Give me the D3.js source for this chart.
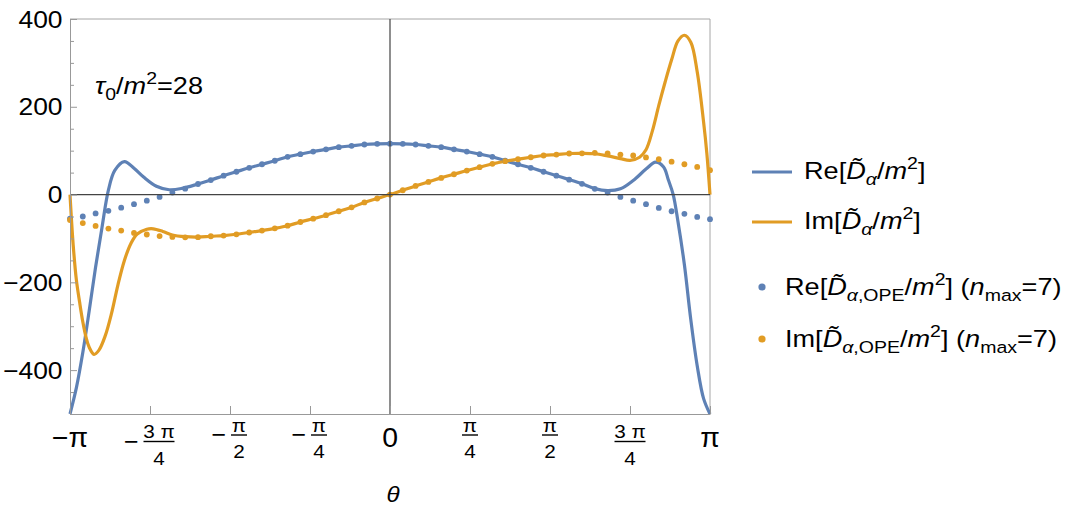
<!DOCTYPE html>
<html>
<head>
<meta charset="utf-8">
<script src="https://cdn.jsdelivr.net/npm/d3@7"></script>
<style>
  body { margin: 0; background: #fff; }
  text { font-family: "Liberation Sans", Arial, sans-serif; fill: #000; }
</style>
</head>
<body>
<div id="chart"></div>
<script>
// theta is stored in units of pi
const yMajorTicks = [-400, -200, 0, 200, 400];
const yMinorTicks = [-500, -450, -350, -300, -250, -150, -100, -50, 50, 100, 150, 250, 300, 350];
const xTicks = [-1, -0.75, -0.5, -0.25, 0, 0.25, 0.5, 0.75, 1];
const xTickLabels = ["−π", "−3 π/4", "−π/2", "−π/4", "0", "π/4", "π/2", "3 π/4", "π"];

// OPE points, theta = k/25 for k = -25..25
const opeTheta = d3.range(-25, 26).map(k => k / 25);
const reOpe = [-55, -50, -43, -37, -30, -22, -14, -5.5, 4.5, 13.5, 24, 33, 43, 52, 61, 69, 77, 86, 92, 98, 103, 108, 111, 114, 115.5,
  116,
  115.5, 114, 111, 108, 103, 98, 92, 86, 77, 69, 61, 52, 43, 34, 24.5, 13, 4.5, -5.5, -14, -22, -30.5, -38, -44, -51, -56];
const imOpe = [-58, -65, -71.5, -77.5, -82, -87.5, -91, -94.5, -96.5, -97.5, -97, -95, -93.5, -90.5, -86.5, -82, -77, -71, -62.5, -55, -47, -38, -29, -18, -9,
  0,
  9.8, 19.6, 28.8, 38, 46.3, 54.7, 62.3, 70, 76, 80.5, 85, 89, 91, 93.5, 94, 95, 93.5, 91, 89, 84.5, 80.5, 75, 69, 63, 55.5];

// full solution [theta, value]
const reExact = [[-1, -500], [-0.98, -440], [-0.96, -360], [-0.94, -265], [-0.92, -165], [-0.9, -75], [-0.88, 10], [-0.86, 55],
  [-0.83, 75], [-0.8, 60], [-0.77, 40], [-0.73, 19], [-0.69, 11], [-0.65, 14],
  [-0.6, 24], [-0.56, 33], [-0.52, 43], [-0.48, 52], [-0.44, 61], [-0.4, 69], [-0.36, 77], [-0.32, 86], [-0.28, 92], [-0.24, 98],
  [-0.2, 103], [-0.16, 108], [-0.12, 111], [-0.08, 114], [-0.04, 115.5], [0, 116], [0.04, 115.5], [0.08, 114], [0.12, 111],
  [0.16, 108], [0.2, 103], [0.24, 98], [0.28, 92], [0.32, 86], [0.36, 77], [0.4, 69], [0.44, 61], [0.48, 52], [0.52, 43],
  [0.56, 34], [0.6, 24.5],
  [0.64, 13.5], [0.68, 9], [0.72, 13], [0.76, 32], [0.8, 58], [0.83, 74], [0.855, 63], [0.87, 33], [0.885, 0], [0.9, -62],
  [0.92, -160], [0.94, -285], [0.96, -390], [0.98, -465], [1, -500]];
const imExact = [[-1, 0], [-0.99, -115], [-0.98, -195], [-0.97, -245], [-0.96, -290], [-0.95, -325], [-0.94, -348], [-0.925, -364],
  [-0.91, -355], [-0.89, -322], [-0.87, -270], [-0.85, -205], [-0.83, -150], [-0.81, -112], [-0.79, -90], [-0.76, -79],
  [-0.74, -78], [-0.71, -84], [-0.68, -92], [-0.64, -96],
  [-0.6, -97], [-0.56, -95], [-0.52, -93.5], [-0.48, -90.5], [-0.44, -86.5], [-0.4, -82], [-0.36, -77], [-0.32, -71], [-0.28, -62.5],
  [-0.24, -55], [-0.2, -47], [-0.16, -38], [-0.12, -29], [-0.08, -18], [-0.04, -9], [0, 0], [0.04, 9.8], [0.08, 19.6], [0.12, 28.8],
  [0.16, 38], [0.2, 46.3], [0.24, 54.7], [0.28, 62.3], [0.32, 70], [0.36, 76], [0.4, 80.5], [0.44, 85], [0.48, 89], [0.52, 91],
  [0.56, 93.5], [0.6, 94],
  [0.64, 93], [0.68, 88], [0.72, 82], [0.75, 78], [0.78, 85], [0.8, 102], [0.82, 145], [0.84, 203], [0.86, 257], [0.88, 307],
  [0.9, 350], [0.92, 363], [0.94, 347], [0.96, 280], [0.98, 165], [0.99, 95], [1, 0]];

// [text, italic, position]
const annotation = [["τ", true, ""], ["0", false, "sub"], ["/", false, ""], ["m", true, ""], ["2", false, "sup"], ["=28", false, ""]];
const legendItems = [
  { kind: "line", color: "#5E81B5", parts: [["Re[", false, ""], ["D̃", true, ""], ["α", true, "sub"], ["/", false, ""], ["m", true, ""], ["2", false, "sup"], ["]", false, ""]] },
  { kind: "line", color: "#E19C24", parts: [["Im[", false, ""], ["D̃", true, ""], ["α", true, "sub"], ["/", false, ""], ["m", true, ""], ["2", false, "sup"], ["]", false, ""]] },
  { kind: "dot", color: "#5E81B5", parts: [["Re[", false, ""], ["D̃", true, ""], ["α", true, "sub"], [",OPE", false, "sub"], ["/", false, ""], ["m", true, ""], ["2", false, "sup"], ["] (", false, ""], ["n", true, ""], ["max", false, "sub"], ["=7)", false, ""]] },
  { kind: "dot", color: "#E19C24", parts: [["Im[", false, ""], ["D̃", true, ""], ["α", true, "sub"], [",OPE", false, "sub"], ["/", false, ""], ["m", true, ""], ["2", false, "sup"], ["] (", false, ""], ["n", true, ""], ["max", false, "sub"], ["=7)", false, ""]] }
];

const W = 1070, H = 511;
const blue = "#5E81B5", orange = "#E19C24";

const svg = d3.select("#chart").append("svg")
  .attr("width", W).attr("height", H);
svg.append("rect").attr("width", W).attr("height", H).attr("fill", "#fff");

const x = d3.scaleLinear().domain([-1, 1]).range([70, 710]);
const y = d3.scaleLinear().domain([-500, 400]).range([414, 19]);

// text in a horizontally stretched group (the original font runs wider than Arial)
function label(g, px, py, size, sx, parts, anchor) {
  const t = g.append("g").attr("transform", `translate(${px},${py}) scale(${sx},1)`)
    .append("text").attr("font-size", size).attr("text-anchor", anchor || "start");
  let cur = 0;
  parts.forEach(([txt, it, pos]) => {
    let off = 0, fs = size;
    if (pos === "sub") { off = size * 0.27; fs = size * 0.72; }
    if (pos === "sup") { off = -size * 0.4; fs = size * 0.72; }
    t.append("tspan")
      .attr("dy", off - cur)
      .attr("font-size", fs)
      .attr("font-style", it ? "italic" : "normal")
      .text(txt);
    cur = off;
  });
  return t;
}

// frame top / right
svg.append("path")
  .attr("d", `M${x(-1)},${y(400)}H${x(1)}V${y(-500)}`)
  .attr("fill", "none").attr("stroke", "#a6a6a6").attr("stroke-width", 1);

// data
const line = d3.line().x(d => x(d[0])).y(d => y(d[1])).curve(d3.curveCatmullRom.alpha(0.5));
const plot = svg.append("g");
plot.append("path").datum(reExact).attr("d", line)
  .attr("fill", "none").attr("stroke", blue).attr("stroke-width", 3.2);
plot.append("path").datum(imExact).attr("d", line)
  .attr("fill", "none").attr("stroke", orange).attr("stroke-width", 3.2);
plot.append("g").selectAll("circle").data(opeTheta).join("circle")
  .attr("cx", d => x(d)).attr("cy", (d, i) => y(reOpe[i])).attr("r", 2.9).attr("fill", blue);
plot.append("g").selectAll("circle").data(opeTheta).join("circle")
  .attr("cx", d => x(d)).attr("cy", (d, i) => y(imOpe[i])).attr("r", 2.9).attr("fill", orange);

// zero axes
svg.append("line").attr("x1", x(-1)).attr("x2", x(1)).attr("y1", y(0)).attr("y2", y(0))
  .attr("stroke", "#444").attr("stroke-width", 1.2);
svg.append("line").attr("x1", x(0)).attr("x2", x(0)).attr("y1", y(400)).attr("y2", y(-500))
  .attr("stroke", "#444").attr("stroke-width", 1.2);

// y axis
svg.append("g").attr("transform", `translate(${x(-1)},0)`)
  .call(d3.axisLeft(y).tickValues(yMajorTicks).tickSizeInner(-7).tickSizeOuter(0).tickFormat(""));
svg.append("g").attr("transform", `translate(${x(-1)},0)`)
  .call(d3.axisLeft(y).tickValues(yMinorTicks).tickSizeInner(-4).tickSizeOuter(0).tickFormat(""))
  .select(".domain").remove();
yMajorTicks.forEach(v => {
  label(svg, 62.5, y(v) + 8.5, 24, 1.1, [[v < 0 ? "−" + Math.abs(v) : String(v), false, ""]], "end");
});

// x axis
svg.append("g").attr("transform", `translate(0,${y(-500)})`)
  .call(d3.axisBottom(x).tickValues(xTicks).tickSizeInner(-8).tickSizeOuter(0).tickFormat(""));
svg.selectAll(".domain, .tick line").attr("stroke", "#999");

// x tick labels (fractions of pi)
const xl = svg.append("g");
xTickLabels.forEach((lab, i) => {
  const cx = x(xTicks[i]);
  if (!lab.includes("/")) {
    label(xl, cx, 446.5, 27, 1.05, [[lab, false, ""]], "middle");
    return;
  }
  const neg = lab.startsWith("−");
  const [num, den] = lab.replace("−", "").split("/");
  const wide = num.length > 1;
  const barY = wide ? 441.5 : 435;
  const fw = wide ? 31 : 16;
  const fx = neg ? cx + 9 : cx;
  if (neg) label(xl, fx - fw / 2 - 5, barY + 8, 25, 1, [["−", false, ""]], "end");
  label(xl, fx, barY - 3.5, 18, 1.15, [[num, false, ""]], "middle");
  xl.append("line").attr("x1", fx - fw / 2).attr("x2", fx + fw / 2).attr("y1", barY).attr("y2", barY)
    .attr("stroke", "#000").attr("stroke-width", 1.4);
  label(xl, fx, barY + 23, 18, 1.15, [[den, false, ""]], "middle");
});

label(svg, x(0) + 3, 502, 22, 1.1, [["θ", true, ""]], "middle");

label(svg, 95, 94, 24, 1.13, annotation);

// legend
const legendY = [172, 222, 287, 339];
legendItems.forEach((it, i) => {
  const ly = legendY[i];
  if (it.kind === "line") {
    svg.append("line").attr("x1", 752).attr("x2", 792).attr("y1", ly).attr("y2", ly)
      .attr("stroke", it.color).attr("stroke-width", 3.2);
    label(svg, 804, ly + 7, 24, 1.13, it.parts);
  } else {
    svg.append("circle").attr("cx", 762).attr("cy", ly).attr("r", 3.6).attr("fill", it.color);
    label(svg, 785, ly + 8, 24, 1.13, it.parts);
  }
});
</script>
</body>
</html>
